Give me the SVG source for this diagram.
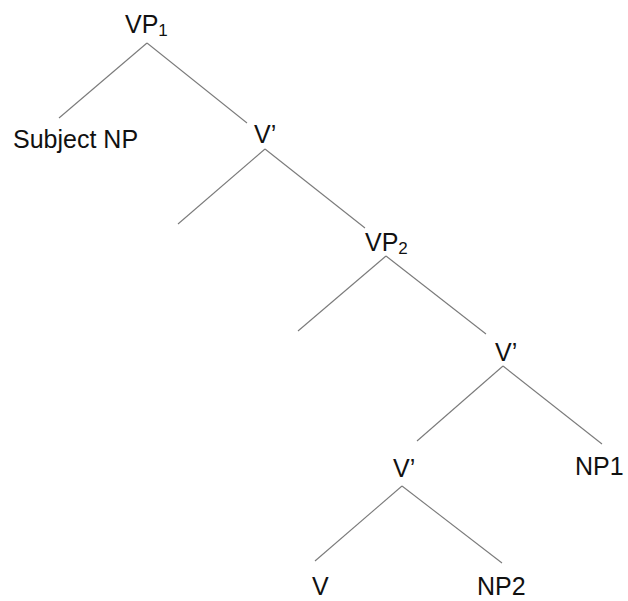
<svg xmlns="http://www.w3.org/2000/svg" width="628" height="601" viewBox="0 0 628 601">
<style>
text{font-family:"Liberation Sans",Arial,sans-serif;font-size:25px;fill:#111}
.sub{font-size:17px}
.edge{stroke:#7a7a7a;stroke-width:1.1;fill:none}
</style>
<rect width="628" height="601" fill="#fff"/>
<g id="edges">
<line class="edge" x1="147" y1="43" x2="59" y2="118"/>
<line class="edge" x1="147" y1="43" x2="247" y2="123"/>
<line class="edge" x1="265" y1="149" x2="178" y2="224"/>
<line class="edge" x1="265" y1="149" x2="365" y2="228"/>
<line class="edge" x1="386" y1="256" x2="298" y2="331"/>
<line class="edge" x1="386" y1="256" x2="486" y2="334"/>
<line class="edge" x1="503" y1="366" x2="417" y2="441"/>
<line class="edge" x1="503" y1="366" x2="602" y2="444"/>
<line class="edge" x1="402" y1="486" x2="315" y2="561"/>
<line class="edge" x1="402" y1="486" x2="502" y2="563"/>
</g>
<g id="vp1"><text x="125" y="33">VP<tspan class="sub" dy="3">1</tspan></text></g>
<g id="subjnp"><text x="13" y="148">Subject NP</text></g>
<g id="vbar1"><text x="254" y="143">V’</text></g>
<g id="vp2"><text x="365" y="251">VP<tspan class="sub" dy="3">2</tspan></text></g>
<g id="vbar2"><text x="495" y="361">V’</text></g>
<g id="np1"><text x="575" y="475">NP1</text></g>
<g id="vbar3"><text x="393" y="477">V’</text></g>
<g id="v"><text x="312" y="595">V</text></g>
<g id="np2"><text x="477" y="595">NP2</text></g>
</svg>
